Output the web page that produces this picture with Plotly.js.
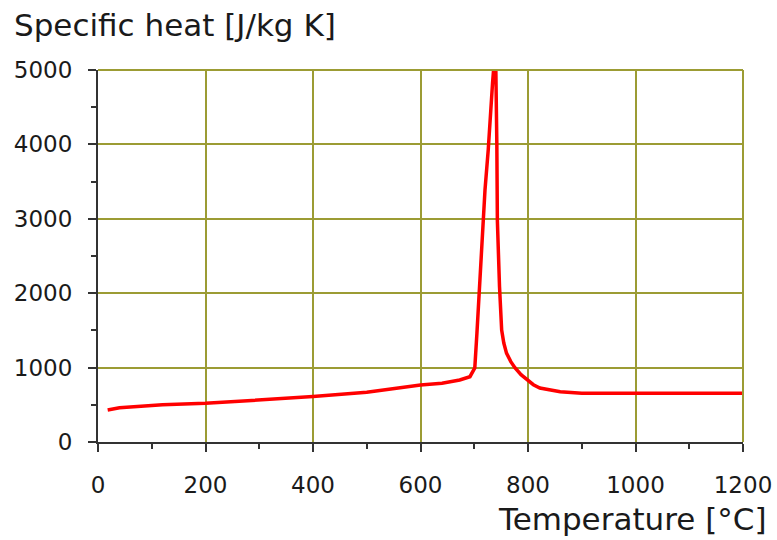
<!DOCTYPE html>
<html><head><meta charset="utf-8">
<script src="https://cdn.plot.ly/plotly-3.0.1.min.js"></script>
<style>body{margin:0;background:#fff}#c{width:777px;height:540px}</style>
</head><body><div id="c"></div>
<script>
const temperature = [18, 40, 80, 120, 200, 300, 400, 500, 560, 600, 640, 673, 692, 701, 705, 711, 716, 720, 726, 729, 734, 737, 740, 742, 743, 747, 751, 755, 760, 768, 776, 787, 798, 810, 822, 840, 860, 900, 1000, 1100, 1200];
const specificHeat = [430, 460, 480, 500, 520, 560, 610, 670, 730, 766, 790, 833, 878, 995, 1465, 2270, 2760, 3390, 3925, 4330, 4820, 5100, 5100, 4020, 2980, 2090, 1505, 1330, 1195, 1080, 995, 905, 833, 770, 725, 700, 676, 655, 655, 655, 655];
const xTicks = [0, 200, 400, 600, 800, 1000, 1200];
const yTicks = [0, 1000, 2000, 3000, 4000, 5000];
const yTitle = "Specific heat [J/kg K]";
const xTitle = "Temperature [°C]";

const font = {family: "DejaVu Sans", size: 23, color: "#1a1a1a"};
const titleFont = {family: "DejaVu Sans", size: 31, color: "#1a1a1a"};
const grid = "#9c9c34";

Plotly.newPlot("c", [{
  x: temperature, y: specificHeat, mode: "lines", type: "scatter",
  line: {color: "#ff0000", width: 3.5}, hoverinfo: "skip"
}], {
  width: 777, height: 540,
  margin: {l: 98, r: 34, t: 70, b: 98},
  paper_bgcolor: "#fff", plot_bgcolor: "#fff",
  showlegend: false,
  font: font,
  title: {text: yTitle, xref: "container", yref: "container", x: 14/777, xanchor: "left", y: 1 - 25/540, yanchor: "middle", font: titleFont},
  xaxis: {
    range: [0, 1200], tickvals: xTicks, ticktext: xTicks.map(String),
    showgrid: true, gridcolor: grid, gridwidth: 2, zeroline: false,
    showline: true, linecolor: "#333", linewidth: 2,
    ticks: "outside", ticklen: 8, tickwidth: 2, tickcolor: "#333",
    ticklabelstandoff: 13,
    minor: {dtick: 100, tick0: 0, ticks: "outside", ticklen: 5, tickwidth: 2, tickcolor: "#333", showgrid: false},
    tickfont: font, fixedrange: true
  },
  yaxis: {
    range: [0, 5000], tickvals: yTicks, ticktext: yTicks.map(String),
    showgrid: true, gridcolor: grid, gridwidth: 2, zeroline: false,
    showline: true, linecolor: "#333", linewidth: 2,
    ticks: "outside", ticklen: 8, tickwidth: 2, tickcolor: "#333",
    ticklabelstandoff: 11,
    minor: {dtick: 500, tick0: 0, ticks: "outside", ticklen: 5, tickwidth: 2, tickcolor: "#333", showgrid: false},
    tickfont: font, fixedrange: true
  },
  shapes: [
    {type: "line", xref: "paper", yref: "paper", x0: 0, x1: 1, y0: 1, y1: 1, line: {color: grid, width: 2}},
    {type: "line", xref: "paper", yref: "paper", x0: 1, x1: 1, y0: 0, y1: 1, line: {color: grid, width: 2}}
  ],
  annotations: [{
    text: xTitle, xref: "paper", yref: "paper", x: (769 - 98) / 645, y: 0, yshift: -77, xanchor: "right", yanchor: "middle",
    showarrow: false, font: titleFont
  }]
}, {staticPlot: true});
</script></body></html>
